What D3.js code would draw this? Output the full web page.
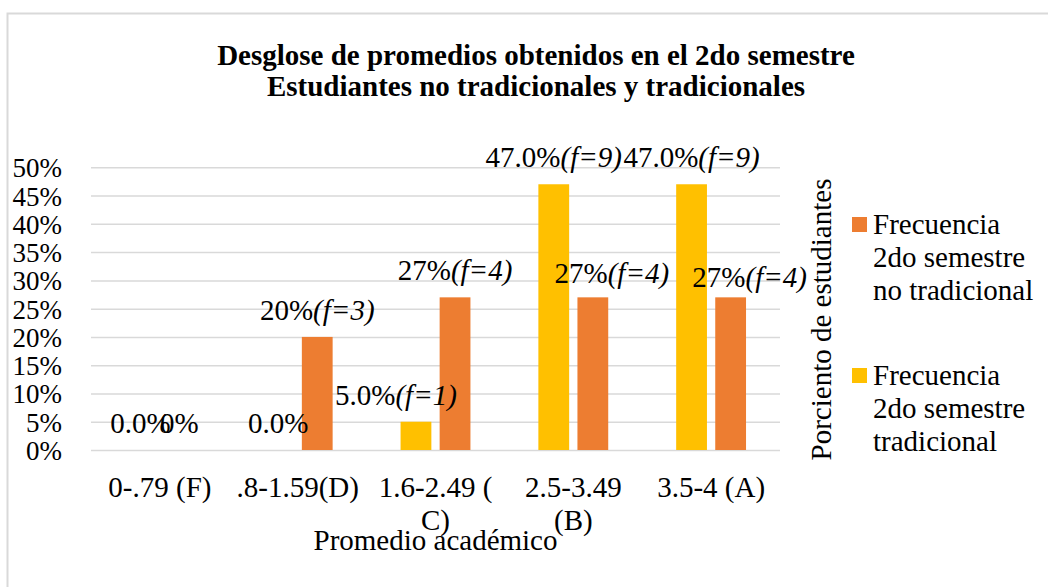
<!DOCTYPE html>
<html lang="es">
<head>
    <meta charset="UTF-8">
    <title>Desglose de promedios</title>
    <script src="https://cdn.jsdelivr.net/npm/d3@7"></script>
    <style>
        body{ margin:0; background:#fff; }
        svg text{ font-family:"Liberation Serif","Times New Roman",serif; fill:#000; }
        .grid line{ stroke:#d9d9d9; stroke-width:1.5; }
        .grid path{ display:none; }
        .axis path{ display:none; }
        .axis text{ font-size:27px; font-family:"Liberation Serif","Times New Roman",serif; }
        .xaxis text{ font-size:29px; }
        .lbl{ font-size:29px; text-anchor:middle; }
        .legend text{ font-size:29px; }
        .title{ font-size:29px; font-weight:bold; text-anchor:middle; }
    </style>
</head>
<body>
<svg width="1048" height="587"></svg>
<script>
    // data
    var categories = ["0-.79 (F)", ".8-1.59(D)", "1.6-2.49 ( C)", "2.5-3.49 (B)", "3.5-4 (A)"];
    var categoryLines = [["0-.79 (F)"], [".8-1.59(D)"], ["1.6-2.49 (", "C)"], ["2.5-3.49", "(B)"], ["3.5-4 (A)"]];
    var series = ["tradicional", "noTradicional"];
    var tradicional = [0, 0, 0.05, 0.47, 0.47];
    var noTradicional = [0, 0.20, 0.27, 0.27, 0.27];
    var tradLabels = ["0.0%", "0.0%", "5.0%", "47.0%", "47.0%"];
    var tradFreq = [null, null, 1, 9, 9];
    var noTradLabels = ["0%", "20%", "27%", "27%", "27%"];
    var noTradFreq = [null, 3, 4, 4, 4];
    var yTicks = [0, 0.05, 0.10, 0.15, 0.20, 0.25, 0.30, 0.35, 0.40, 0.45, 0.50];
    var legendItems = [
        {key:"noTradicional", lines:["Frecuencia", "2do semestre", "no tradicional"]},
        {key:"tradicional", lines:["Frecuencia", "2do semestre", "tradicional"]}
    ];
    var titleLines = ["Desglose de promedios obtenidos en el 2do semestre", "Estudiantes no tradicionales y tradicionales"];

    var colors = {tradicional:"#FFC000", noTradicional:"#ED7D31"};

    var svg = d3.select("svg");
    var plotLeft = 91, plotRight = 780, plotTop = 167.3, plotBottom = 450;

    // chart frame
    svg.append("rect")
        .attr("x", 7.5).attr("y", 13.5)
        .attr("width", 1100).attr("height", 640)
        .attr("fill", "#fff").attr("stroke", "#d9d9d9").attr("stroke-width", 2);

    var y = d3.scaleLinear().domain([0, 0.5]).range([plotBottom, plotTop]);
    var x0 = d3.scaleBand().domain(categories).range([plotLeft, plotRight])
        .paddingInner(0.493).paddingOuter(0.2465);
    var x1 = d3.scaleBand().domain(series).range([0, x0.bandwidth()]).paddingInner(0.212);

    svg.append("g")
        .attr("class", "grid")
        .attr("transform", "translate(" + plotLeft + ",0)")
        .call(d3.axisLeft(y).tickValues(yTicks).tickSize(-(plotRight - plotLeft)).tickFormat(""));

    svg.append("g")
        .attr("class", "axis")
        .attr("transform", "translate(" + plotLeft + ",0)")
        .call(d3.axisLeft(y).tickValues(yTicks).tickSize(0).tickPadding(29).tickFormat(d3.format(".0%")))
        .selectAll("text").attr("dy", "0.35em");

    var xg = svg.append("g")
        .attr("class", "axis xaxis")
        .attr("transform", "translate(0," + plotBottom + ")")
        .call(d3.axisBottom(x0).tickSize(0));
    xg.selectAll(".tick text").each(function(d, i){
        var t = d3.select(this).text(null).attr("y", 0).attr("dy", null);
        categoryLines[i].forEach(function(line, j){
            t.append("tspan").attr("x", 0).attr("y", 47 + j * 33).text(line);
        });
    });

    // bars
    var rows = categories.map(function(c, i){
        return [
            {cat:c, key:"tradicional", v:tradicional[i], label:tradLabels[i], f:tradFreq[i], i:i},
            {cat:c, key:"noTradicional", v:noTradicional[i], label:noTradLabels[i], f:noTradFreq[i], i:i}
        ];
    });

    var group = svg.selectAll(".grp")
        .data(rows)
        .enter().append("g")
        .attr("class", "grp")
        .attr("transform", function(d){ return "translate(" + x0(d[0].cat) + ",0)"; });

    group.selectAll("rect")
        .data(function(d){ return d; })
        .enter().append("rect")
        .attr("x", function(d){ return x1(d.key); })
        .attr("y", function(d){ return y(d.v); })
        .attr("width", x1.bandwidth())
        .attr("height", function(d){ return y(0) - y(d.v); })
        .attr("fill", function(d){ return colors[d.key]; });

    // labels that were dragged by hand in the original
    function nudge(d){
        if (d.key == "tradicional" && d.i == 2) return [-20, 0];
        if (d.key == "noTradicional" && d.i == 3) return [19, 3];
        if (d.key == "noTradicional" && d.i == 4) return [19, 7];
        return [0, 0];
    }

    var lbl = group.selectAll("text.lbl")
        .data(function(d){ return d; })
        .enter().append("text")
        .attr("class", "lbl")
        .attr("x", function(d){ return x1(d.key) + x1.bandwidth() / 2 + nudge(d)[0]; })
        .attr("y", function(d){ return y(d.v) - 17 + nudge(d)[1]; });
    lbl.append("tspan").text(function(d){ return d.label; });
    lbl.filter(function(d){ return d.f != null; })
        .append("tspan").attr("font-style", "italic")
        .text(function(d){ return "(f=" + d.f + ")"; });

    // axis titles
    svg.append("text")
        .attr("class", "lbl")
        .attr("x", (plotLeft + plotRight) / 2).attr("y", 550)
        .text("Promedio académico");
    svg.append("text")
        .attr("class", "lbl")
        .attr("transform", "translate(831,319.5) rotate(-90)")
        .text("Porciento de estudiantes");

    // legend
    var leg = svg.append("g").attr("class", "legend");
    legendItems.forEach(function(item, k){
        var base = 234 + k * 151;
        leg.append("rect")
            .attr("x", 852).attr("y", base - 17)
            .attr("width", 15).attr("height", 15)
            .attr("fill", colors[item.key]);
        item.lines.forEach(function(line, j){
            leg.append("text").attr("x", 873).attr("y", base + j * 33).text(line);
        });
    });

    // title
    titleLines.forEach(function(line, j){
        svg.append("text")
            .attr("class", "title")
            .attr("x", 536).attr("y", 65 + j * 31)
            .text(line);
    });
</script>
</body>
</html>
